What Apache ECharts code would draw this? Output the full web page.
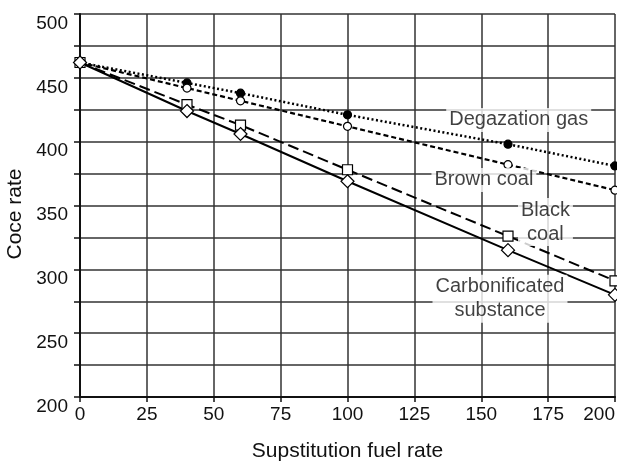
<!DOCTYPE html>
<html lang="en">
<head>
    <meta charset="UTF-8">
    <title>Coce rate vs substitution fuel rate</title>
    <script src="https://cdnjs.cloudflare.com/ajax/libs/echarts/6.0.0/echarts.min.js"></script>
    <style>
        body { margin: 0; background: #fff; }
        #chart { width: 617px; height: 464px; }
    </style>
</head>
<body>
<div id="chart"></div>
<script>
    // fuel rate values where points were measured
    const fuelRate = [0, 40, 60, 100, 160, 200];

    const degazationGas = [462, 446, 438, 421, 398, 381];
    const brownCoal = [462, 442, 432, 412, 382, 362];
    const blackCoal = [462, 429, 413, 378, 326, 291];
    const carbonificated = [462, 424, 406, 369, 315, 280];

    // annotation labels, placed in data units
    const noteText = ['Degazation gas', 'Brown coal', 'Black\ncoal', 'Carbonificated\nsubstance'];
    const noteX = [164, 151, 174, 157];
    const noteY = [417, 370, 337, 277];

    const font = 'Liberation Sans, Arial, sans-serif';

    function pairs(ys) {
        return fuelRate.map((x, i) => [x, ys[i]]);
    }

    function lineSeries(name, ys, symbol, size, fill, dash, width) {
        return {
            name: name,
            type: 'line',
            data: pairs(ys),
            symbol: symbol,
            symbolSize: size,
            showAllSymbol: true,
            itemStyle: { color: fill, borderColor: '#000', borderWidth: 1.2 },
            lineStyle: { color: '#000', width: width, type: dash },
            z: 3
        };
    }

    const chart = echarts.init(document.getElementById('chart'));
    chart.setOption({
        animation: false,
        grid: { left: 80, right: 2, top: 14, bottom: 67, outerBoundsMode: 'none', containLabel: false },
        xAxis: {
            type: 'value',
            min: 0, max: 200, interval: 25,
            name: 'Supstitution fuel rate',
            nameLocation: 'middle',
            nameGap: 44,
            nameTextStyle: { fontFamily: font, fontSize: 21, color: '#111' },
            axisLine: { lineStyle: { color: '#111', width: 2 } },
            axisTick: { inside: false, length: 5, lineStyle: { color: '#111', width: 1.5 } },
            axisLabel: { margin: 8, fontFamily: font, fontSize: 19, color: '#111', alignMaxLabel: 'right' },
            splitLine: { lineStyle: { color: '#333', width: 1.5 } }
        },
        yAxis: {
            type: 'value',
            min: 200, max: 500, interval: 25,
            name: 'Coce rate',
            nameLocation: 'middle',
            nameGap: 49,
            nameTextStyle: { fontFamily: font, fontSize: 21, color: '#111', padding: [0, 17, 0, 0] },
            axisLine: { show: true, lineStyle: { color: '#111', width: 2 } },
            axisTick: { inside: false, length: 6, lineStyle: { color: '#111', width: 1.5 } },
            axisLabel: {
                margin: 12, fontFamily: font, fontSize: 19, color: '#111',
                verticalAlign: 'top',
                formatter: v => (v % 50 === 0 ? String(v) : '')
            },
            splitLine: { lineStyle: { color: '#333', width: 1.5 } }
        },
        series: [
            lineSeries('Degazation gas', degazationGas, 'circle', 8, '#000', [2, 2.5], 2.5),
            lineSeries('Brown coal', brownCoal, 'circle', 8, '#fff', [5, 3], 2.2),
            lineSeries('Black coal', blackCoal, 'rect', 10, '#fff', [11, 5], 2),
            lineSeries('Carbonificated substance', carbonificated, 'diamond', 13, '#fff', 'solid', 2),
            {
                type: 'scatter',
                symbolSize: 0,
                z: 4,
                data: noteText.map((t, i) => ({ name: t, value: [noteX[i], noteY[i]] })),
                label: {
                    show: true,
                    position: 'inside',
                    formatter: p => p.name,
                    fontFamily: font,
                    fontSize: 20,
                    lineHeight: 24,
                    color: '#111',
                    backgroundColor: '#fff',
                    padding: [0, 3]
                }
            }
        ]
    });
</script>
</body>
</html>
